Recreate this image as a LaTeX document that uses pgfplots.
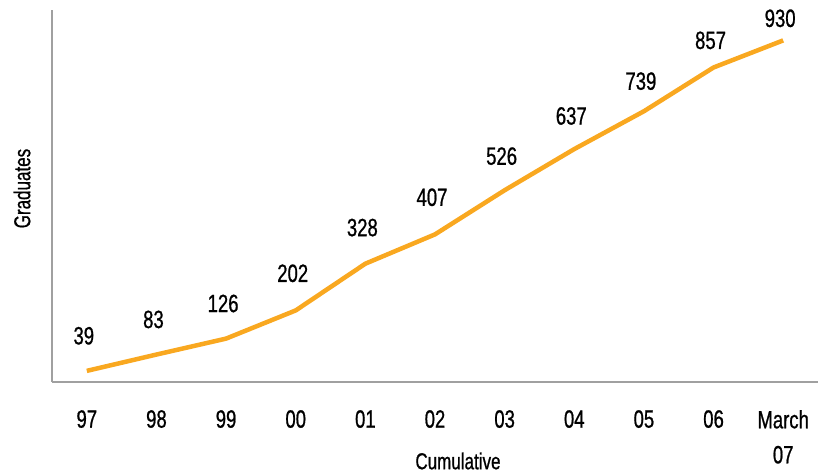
\documentclass[border=0pt]{standalone}
\usepackage{fontspec}
\setmainfont{Liberation Sans}[FakeStretch=0.74, FakeBold=0.8]
\usepackage{pgfplots}
\usepackage{pgfplotstable}
\pgfplotsset{compat=1.18}

\definecolor{lineorange}{RGB}{249,168,32}
\definecolor{axisgray}{RGB}{160,160,160}

% x, graduates, label gap above the point (pt)
\pgfplotstableread{
x  y    off
0  39   24
1  83   24
2  126  24
3  202  26
4  328  25
5  407  26
6  526  23
7  637  22
8  739  19
9  857  16
10 930  11
}\grads

\begin{document}
\begin{tikzpicture}
  \useasboundingbox (-52pt,-91pt) rectangle (767pt,382pt);
  \begin{axis}[
    at={(0pt,0pt)}, anchor=south west,
    scale only axis, width=766pt, height=372pt,
    xmin=-0.5, xmax=10.5,
    ymin=9, ymax=1012,
    axis lines*=left,
    axis line style={-, draw=axisgray, line width=2pt},
    xtick=data,
    xticklabels={97,98,99,00,01,02,03,04,05,06,March\\07},
    ytick=\empty,
    major tick length=0pt,
    xticklabel style={font=\fontsize{25}{35}\selectfont, align=center,
      anchor=north, inner sep=0pt, yshift=-28pt},
    xlabel={Cumulative},
    ylabel={Graduates},
    xlabel style={font=\fontsize{23}{26}\selectfont, at={(axis description cs:0.53,0)},
      anchor=center, yshift=-79pt},
    ylabel style={font=\fontsize{23}{26}\selectfont, at={(axis description cs:0,0.52)},
      anchor=center, yshift=30pt},
    clip=false,
  ]
    \addplot[color=lineorange, line width=4.5pt, line join=round, no marks,
      nodes near coords,
      point meta=explicit symbolic,
      visualization depends on={\thisrow{off} \as \gap},
      every node near coord/.append style={font=\fontsize{25}{28}\selectfont,
        text=black, anchor=south, inner sep=0pt, yshift=\gap pt, xshift=-3pt},
    ] table[x=x, y=y, meta=y] {\grads};
  \end{axis}
\end{tikzpicture}
\end{document}
